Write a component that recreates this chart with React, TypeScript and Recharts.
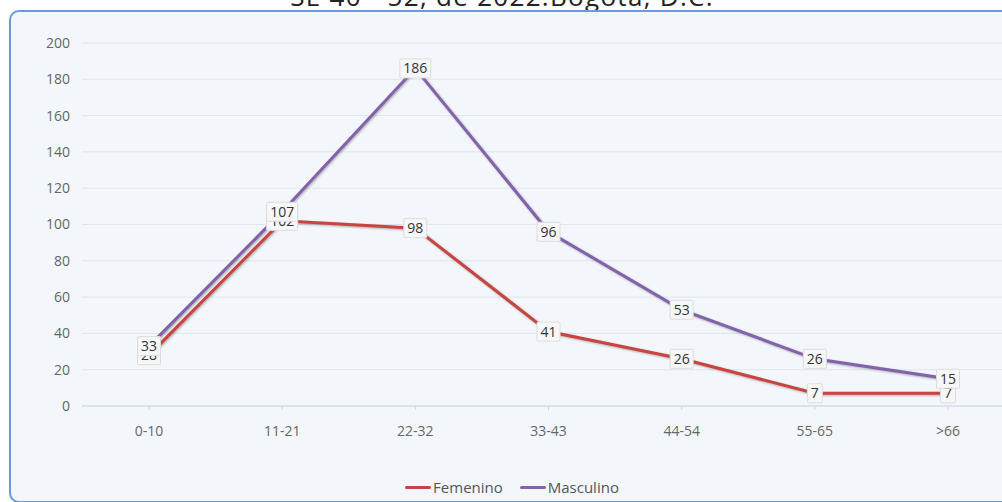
import {
  LineChart,
  Line,
  XAxis,
  YAxis,
  CartesianGrid,
  Legend,
} from "recharts";

const grupos = ["0-10", "11-21", "22-32", "33-43", "44-54", "55-65", ">66"];
const femenino = [28, 102, 98, 41, 26, 7, 7];
const masculino = [33, 107, 186, 96, 53, 26, 15];
const yTicks = [0, 20, 40, 60, 80, 100, 120, 140, 160, 180, 200];
const bandEdges = [0, 1, 2, 3, 4, 5, 6, 7];

const titulo = "SE 40 - 52, de 2022.Bogotá, D.C.";
const FONT = "'Open Sans', sans-serif";

const data = grupos.map((g, i) => ({
  grupo: g,
  Femenino: femenino[i],
  Masculino: masculino[i],
}));

// little white box with the value, centred on the point
const ValueBox = (props: any) => {
  const { x, y, value } = props;
  if (x == null || y == null) return null;
  const txt = String(value);
  const w = txt.length * 8 + 7;
  const h = 19;
  return (
    <g>
      <rect
        x={x - w / 2}
        y={y - h / 2}
        width={w}
        height={h}
        fill="#f7f7f7"
        stroke="#dcdcdc"
        strokeWidth={1}
        rx={1}
      />
      <text
        x={x}
        y={y + 5}
        textAnchor="middle"
        fontSize={14}
        fontFamily={FONT}
        fill="#333"
      >
        {txt}
      </text>
    </g>
  );
};

const renderLegend = (props: any) => {
  const { payload } = props;
  return (
    <div
      style={{
        display: "flex",
        justifyContent: "center",
        alignItems: "center",
        gap: 17,
        paddingLeft: 9,
        fontFamily: FONT,
        fontSize: 15,
        color: "#555",
        height: 24,
      }}
    >
      {(payload || []).map((p: any) => (
        <div key={p.value} style={{ display: "flex", alignItems: "center", gap: 2 }}>
          <span
            style={{
              display: "inline-block",
              width: 26,
              height: 3,
              borderRadius: 2,
              background: p.color,
            }}
          />
          <span>{p.value}</span>
        </div>
      ))}
    </div>
  );
};

export default function App() {
  return (
    <div
      style={{
        position: "fixed",
        top: 0,
        left: 0,
        width: 1002,
        height: 502,
        overflow: "hidden",
        background: "#fff",
      }}
    >
      <div
        style={{
          position: "absolute",
          top: -22,
          left: 0,
          width: 1004,
          textAlign: "center",
          fontFamily: FONT,
          fontSize: 26,
          letterSpacing: 1.3,
          color: "#222",
          whiteSpace: "nowrap",
        }}
      >
        {titulo}
      </div>
      <div
        style={{
          position: "absolute",
          left: 9,
          top: 10,
          width: 1040,
          height: 489,
          border: "2px solid #6b9bd8",
          borderRadius: 10,
          background: "#f3f7fb",
        }}
      />
      <div style={{ position: "absolute", left: 0, top: 0 }}>
        <LineChart
          width={1015}
          height={502}
          data={data}
          margin={{ top: 43, right: 0, bottom: 3, left: 0 }}
        >
          <CartesianGrid vertical={false} stroke="#dfe5ee" />
          <XAxis
            xAxisId="edges"
            type="number"
            domain={[0, 7]}
            ticks={bandEdges}
            allowDataOverflow
            height={0}
            axisLine={false}
            tick={false}
            tickSize={4}
            tickLine={{ stroke: "#ccd6eb" }}
          />
          <XAxis
            dataKey="grupo"
            height={69}
            padding={{ left: 67, right: 67 }}
            axisLine={{ stroke: "#ccd6eb" }}
            tickSize={4}
            tickLine={{ stroke: "#ccd6eb" }}
            tickMargin={16}
            tick={{ fill: "#666", fontSize: 14, fontFamily: FONT }}
          />
          <YAxis
            width={82}
            domain={[0, 200]}
            ticks={yTicks}
            axisLine={false}
            tickLine={false}
            tickMargin={6}
            tick={{ fill: "#666", fontSize: 14, fontFamily: FONT }}
          />
          <Legend verticalAlign="bottom" height={24} content={renderLegend} />
          <Line
            dataKey="Femenino"
            stroke="#c9443f"
            strokeWidth={3}
            dot={false}
            isAnimationActive={false}
            style={{ filter: "drop-shadow(1px 1px 1px rgba(0,0,0,0.3))" }}
            label={<ValueBox />}
          />
          <Line
            dataKey="Masculino"
            stroke="#8461ab"
            strokeWidth={3}
            dot={false}
            isAnimationActive={false}
            style={{ filter: "drop-shadow(1px 1px 1px rgba(0,0,0,0.3))" }}
            label={<ValueBox />}
          />
        </LineChart>
      </div>
    </div>
  );
}
